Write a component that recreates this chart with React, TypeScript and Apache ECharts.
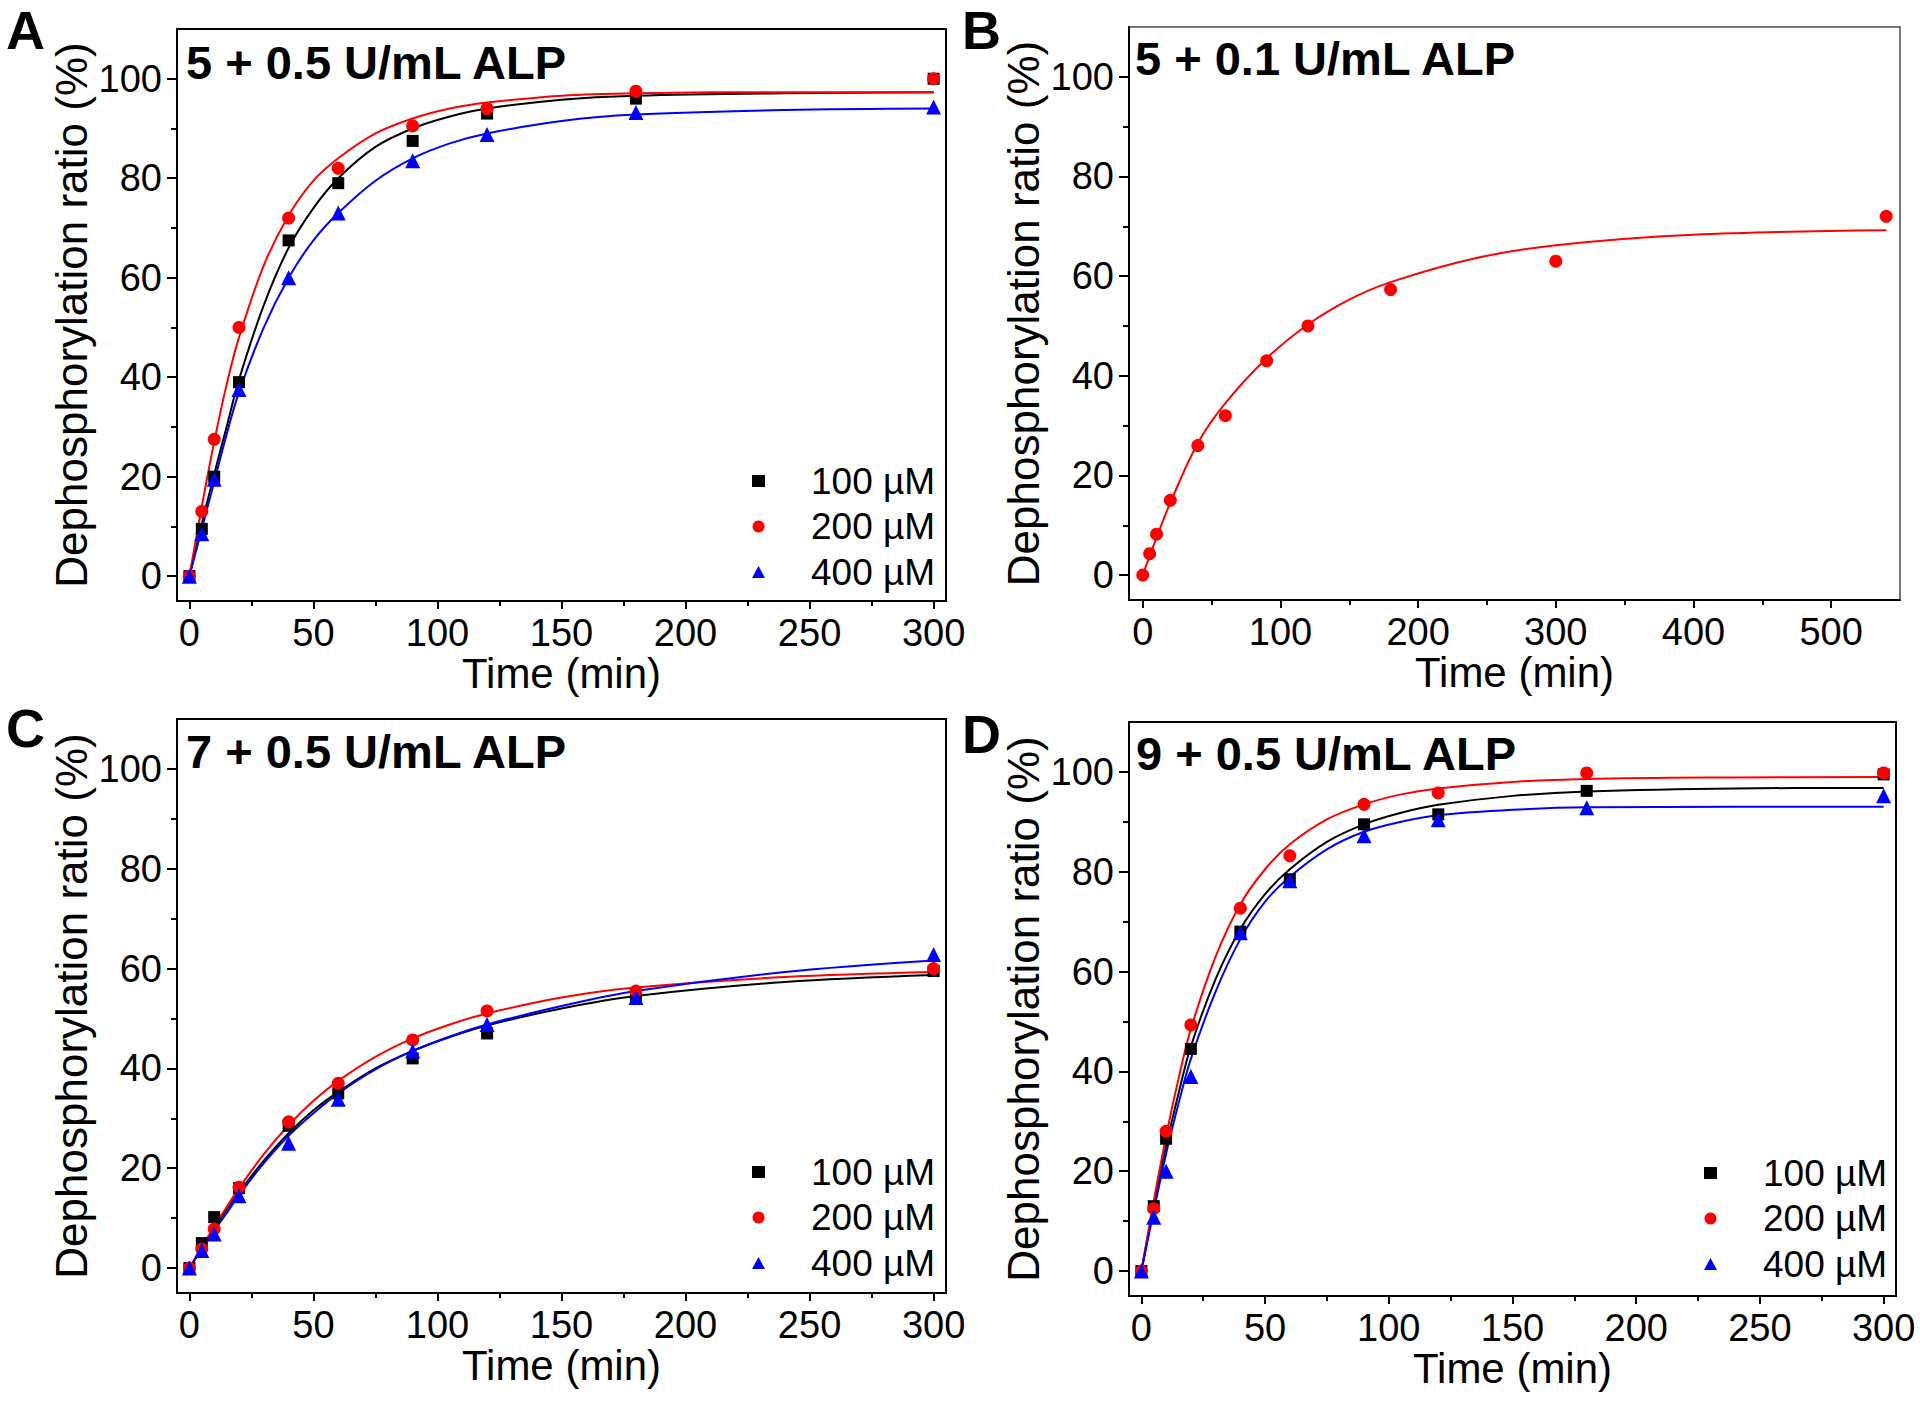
import React, { useEffect, useRef } from "react";
import * as echarts from "echarts";

const FONT = 'Arial, "Liberation Sans", Helvetica, sans-serif';

// ---------- data ----------
const NAMES = ["100 µM", "200 µM", "400 µM"];
const COLORS = ["#000000", "#ff0000", "#0000ff"];
const SYMBOLS = ["rect", "circle", "triangle"];
const SYMBOL_SIZES = [12, 13, 15];

const TIMES = [0, 5, 10, 20, 40, 60, 90, 120, 180, 300];
const TIMES_B = [0, 5, 10, 20, 40, 60, 90, 120, 180, 300, 540];
const FIT_T = [0, 5, 10, 15, 20, 30, 40, 50, 60, 75, 90, 105, 120, 150, 180, 240, 300];
const FIT_T_B = [0, 10, 20, 40, 60, 90, 120, 150, 180, 240, 300, 400, 540];

// Panel A: 5 + 0.5 U/mL ALP
const A_100 = [0, 9.5, 20, 39, 67.5, 79, 87.5, 93, 96, 100];
const A_200 = [0, 13, 27.5, 50, 72, 82, 90.5, 94, 97.5, 100];
const A_400 = [0, 8.5, 19.5, 37.5, 60, 73, 83.5, 88.8, 93.2, 94.3];
const A_FIT_100 = [0, 10.5, 20.5, 30, 39.5, 54.5, 66, 74, 80, 86.3, 90, 92.4, 94, 95.8, 96.6, 97.1, 97.3];
const A_FIT_200 = [0, 14, 27, 38.5, 48, 62.5, 72.5, 79.5, 84, 89, 92, 94, 95.2, 96.6, 97.1, 97.3, 97.3];
const A_FIT_400 = [0, 9.5, 19, 28.5, 37, 50, 60, 67.5, 73, 79.5, 84, 87, 89, 91.5, 92.8, 93.7, 94];

// Panel B: 5 + 0.1 U/mL ALP (200 µM)
const B_200 = [0, 4.3, 8.2, 15, 26, 32, 43, 50, 57.3, 63, 72];
const B_FIT_200 = [0, 7.5, 14.5, 26.5, 34.5, 43.5, 50.3, 55.3, 58.8, 63.5, 66.2, 68.3, 69.2];

// Panel C: 7 + 0.5 U/mL ALP
const C_100 = [0, 5, 10.2, 16, 28.5, 35, 42, 47, 54.5, 59.5];
const C_200 = [0, 3.8, 7.8, 16.2, 29.3, 37, 45.7, 51.5, 55.5, 60];
const C_400 = [0, 3.5, 6.8, 14.5, 25, 33.8, 43.5, 48.8, 54.2, 62.8];
const C_FIT_100 = [0, 4, 8, 11.7, 15.2, 21.5, 27, 31.6, 35.3, 40, 43.5, 46.3, 48.6, 52, 54.5, 57.3, 58.7];
const C_FIT_200 = [0, 4.2, 8.3, 12.2, 16, 22.8, 28.6, 33.5, 37.5, 42.3, 46, 48.8, 51, 54.2, 56.2, 58.3, 59.3];
const C_FIT_400 = [0, 3.8, 7.5, 11, 14.6, 21, 26.5, 31, 35, 39.8, 43.5, 46.4, 48.8, 52.5, 55.5, 59.3, 61.6];

// Panel D: 9 + 0.5 U/mL ALP
const D_100 = [0, 13, 26.5, 44.5, 68, 78.5, 89.5, 91.5, 96.2, 99.5];
const D_200 = [0, 12.5, 28, 49.3, 72.7, 83.2, 93.5, 95.8, 99.8, 99.8];
const D_400 = [0, 10.8, 20, 39, 67.8, 78.2, 87.2, 90.4, 92.8, 95.2];
const D_FIT_100 = [0, 13, 25, 35.5, 45, 58.5, 68.5, 75.5, 80.5, 86, 89.5, 91.8, 93.4, 95.2, 96.1, 96.7, 96.8];
const D_FIT_200 = [0, 14, 27, 38.5, 48.5, 63, 73.5, 80.5, 85.5, 90.5, 93.5, 95.5, 96.7, 98, 98.6, 98.9, 99];
const D_FIT_400 = [0, 12, 23.5, 33.5, 42.5, 56, 66.5, 74, 79, 84.5, 88, 90, 91.3, 92.4, 92.9, 93, 93];

// tick values
const X_MAJOR = [0, 50, 100, 150, 200, 250, 300];
const X_MINOR = [25, 75, 125, 175, 225, 275];
const X_MAJOR_B = [0, 100, 200, 300, 400, 500];
const X_MINOR_B = [50, 150, 250, 350, 450];
const Y_MAJOR = [0, 20, 40, 60, 80, 100];
const Y_MINOR = [10, 30, 50, 70, 90];

const TITLES = ["5 + 0.5 U/mL ALP", "5 + 0.1 U/mL ALP", "7 + 0.5 U/mL ALP", "9 + 0.5 U/mL ALP"];
const LETTERS = ["A", "B", "C", "D"];
const X_TITLE = "Time (min)";
const Y_TITLE = "Dephosphorylation ratio (%)";

type Panel = {
  grid: { left: number; top: number; width: number; height: number };
  xMin: number;
  xMax: number;
  xMajor: number[];
  xMinor: number[];
  times: number[];
  fitT: number[];
  sets: { idx: number; pts: number[]; fit: number[] }[];
  titlePos: [number, number];
  letterPos: [number, number];
  legend: { left: number; top: number } | null;
  borderColor: string;
};

const PANELS: Panel[] = [
  {
    grid: { left: 177, top: 29, width: 769, height: 572 },
    xMin: -5, xMax: 305, xMajor: X_MAJOR, xMinor: X_MINOR,
    times: TIMES, fitT: FIT_T,
    sets: [
      { idx: 0, pts: A_100, fit: A_FIT_100 },
      { idx: 1, pts: A_200, fit: A_FIT_200 },
      { idx: 2, pts: A_400, fit: A_FIT_400 },
    ],
    titlePos: [186, 62], letterPos: [6, 30],
    legend: { left: 752, top: 461 },
    borderColor: "#000",
  },
  {
    grid: { left: 1129, top: 27, width: 771, height: 573 },
    xMin: -10, xMax: 550, xMajor: X_MAJOR_B, xMinor: X_MINOR_B,
    times: TIMES_B, fitT: FIT_T_B,
    sets: [{ idx: 1, pts: B_200, fit: B_FIT_200 }],
    titlePos: [1135, 58], letterPos: [962, 30],
    legend: null,
    borderColor: "#777",
  },
  {
    grid: { left: 177, top: 719, width: 769, height: 574 },
    xMin: -5, xMax: 305, xMajor: X_MAJOR, xMinor: X_MINOR,
    times: TIMES, fitT: FIT_T,
    sets: [
      { idx: 0, pts: C_100, fit: C_FIT_100 },
      { idx: 1, pts: C_200, fit: C_FIT_200 },
      { idx: 2, pts: C_400, fit: C_FIT_400 },
    ],
    titlePos: [186, 751], letterPos: [6, 728],
    legend: { left: 752, top: 1152 },
    borderColor: "#000",
  },
  {
    grid: { left: 1129, top: 722, width: 767, height: 574 },
    xMin: -5, xMax: 305, xMajor: X_MAJOR, xMinor: X_MINOR,
    times: TIMES, fitT: FIT_T,
    sets: [
      { idx: 0, pts: D_100, fit: D_FIT_100 },
      { idx: 1, pts: D_200, fit: D_FIT_200 },
      { idx: 2, pts: D_400, fit: D_FIT_400 },
    ],
    titlePos: [1136, 753], letterPos: [962, 734],
    legend: { left: 1704, top: 1153 },
    borderColor: "#000",
  },
];

function zip(xs: number[], ys: number[]) {
  return ys.map((y, i) => [xs[i], y]);
}

function buildOption() {
  const grids: any[] = [];
  const xAxes: any[] = [];
  const yAxes: any[] = [];
  const series: any[] = [];
  const legends: any[] = [];
  const graphics: any[] = [];

  PANELS.forEach((p, i) => {
    grids.push({
      ...p.grid,
      show: true,
      borderColor: p.borderColor,
      borderWidth: 2,
      backgroundColor: "transparent",
      containLabel: false,
      outerBoundsMode: "none",
    });
    const lineSt = { color: "#000", width: 2 };
    // major x
    xAxes.push({
      type: "value", gridIndex: i, min: p.xMin, max: p.xMax, position: "bottom",
      axisLine: { show: true, onZero: false, lineStyle: lineSt },
      axisTick: { show: true, customValues: p.xMajor, length: 8, inside: false, lineStyle: lineSt },
      axisLabel: { show: true, customValues: p.xMajor, fontSize: 38, color: "#000", fontFamily: FONT, margin: 13 },
      splitLine: { show: false },
      name: X_TITLE, nameLocation: "middle", nameGap: 50,
      nameTextStyle: { fontSize: 42, color: "#000", fontFamily: FONT },
    });
    // minor x
    xAxes.push({
      type: "value", gridIndex: i, min: p.xMin, max: p.xMax, position: "bottom",
      axisLine: { show: false, onZero: false },
      axisTick: { show: true, customValues: p.xMinor, length: 5, lineStyle: lineSt },
      axisLabel: { show: false },
      splitLine: { show: false },
    });
    // major y
    yAxes.push({
      type: "value", gridIndex: i, min: -5, max: 110, position: "left",
      axisLine: { show: true, onZero: false, lineStyle: lineSt },
      axisTick: { show: true, customValues: Y_MAJOR, length: 10, lineStyle: lineSt },
      axisLabel: { show: true, customValues: Y_MAJOR, fontSize: 38, color: "#000", fontFamily: FONT, margin: 15 },
      splitLine: { show: false },
      name: Y_TITLE, nameLocation: "middle", nameGap: 84, nameRotate: 90,
      nameTextStyle: { fontSize: 44, color: "#000", fontFamily: FONT },
    });
    // minor y
    yAxes.push({
      type: "value", gridIndex: i, min: -5, max: 110, position: "left",
      axisLine: { show: false, onZero: false },
      axisTick: { show: true, customValues: Y_MINOR, length: 6, lineStyle: lineSt },
      axisLabel: { show: false },
      splitLine: { show: false },
    });

    p.sets.forEach((s) => {
      series.push({
        type: "line",
        name: "fit-" + LETTERS[i] + "-" + NAMES[s.idx],
        xAxisIndex: 2 * i, yAxisIndex: 2 * i,
        data: zip(p.fitT, s.fit),
        symbol: "none", showSymbol: false,
        smooth: 0.35,
        lineStyle: { color: COLORS[s.idx], width: 2 },
        z: 2, silent: true,
      });
    });
    p.sets.forEach((s) => {
      series.push({
        type: "scatter",
        name: NAMES[s.idx],
        xAxisIndex: 2 * i, yAxisIndex: 2 * i,
        data: zip(p.times, s.pts),
        symbol: SYMBOLS[s.idx],
        symbolSize: SYMBOL_SIZES[s.idx],
        itemStyle: { color: COLORS[s.idx], opacity: 1 },
        z: 3,
      });
    });

    if (p.legend) {
      legends.push({
        left: p.legend.left, top: p.legend.top,
        orient: "vertical",
        itemWidth: 13, itemHeight: 12, itemGap: 5.5,
        padding: 0,
        selectedMode: false,
        data: NAMES,
        textStyle: { fontSize: 37, color: "#000", fontFamily: FONT, lineHeight: 40, padding: [0, 0, 0, 41] },
      });
    }

    graphics.push({
      type: "text", x: p.titlePos[0], y: p.titlePos[1],
      style: { text: TITLES[i], fill: "#000", font: "bold 47px " + FONT, verticalAlign: "middle", align: "left" },
    });
    graphics.push({
      type: "text", x: p.letterPos[0], y: p.letterPos[1],
      style: { text: LETTERS[i], fill: "#000", font: "bold 54px " + FONT, verticalAlign: "middle", align: "left" },
    });
  });

  return {
    animation: false,
    backgroundColor: "#ffffff",
    textStyle: { fontFamily: FONT },
    grid: grids,
    xAxis: xAxes,
    yAxis: yAxes,
    legend: legends,
    series,
    graphic: graphics,
  };
}

export default function App() {
  const ref = useRef<HTMLDivElement>(null);
  useEffect(() => {
    if (!ref.current) return;
    const chart = echarts.init(ref.current, undefined, { renderer: "svg" });
    chart.setOption(buildOption() as any);
    return () => chart.dispose();
  }, []);
  return (
    <div
      ref={ref}
      style={{ position: "absolute", left: 0, top: 0, width: 1920, height: 1403, background: "#fff" }}
    />
  );
}
